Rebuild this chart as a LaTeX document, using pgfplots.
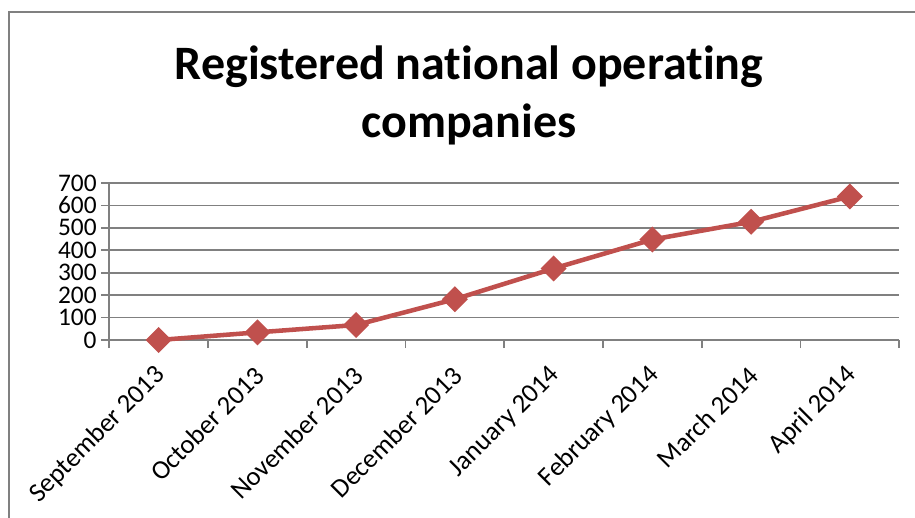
\documentclass[border=0pt]{standalone}
\usepackage{pgfplots}
\pgfplotsset{compat=1.18}
\usepackage{fontspec}
\setmainfont{Carlito}[Ligatures=NoCommon]
\definecolor{linered}{HTML}{C0504D}
\definecolor{gridgray}{HTML}{808080}
\begin{document}
\begin{tikzpicture}
\clip (0,0) rectangle (686.25pt,-388.5pt);
\draw[gridgray, line width=1.1pt] (9*0.75pt,-12*0.75pt) rectangle (700pt,-400pt);
\node[anchor=base, inner sep=0pt, font=\fontsize{36}{43}\selectfont\bfseries] at (469*0.75pt,-79*0.75pt) {Registered national operating};
\node[anchor=base, inner sep=0pt, font=\fontsize{36}{43}\selectfont\bfseries] at (469*0.75pt,-137*0.75pt) {companies};
\begin{axis}[
  at={(109.3*0.75pt,-340*0.75pt)}, anchor=south west,
  scale only axis, width=592.5pt, height=117.75pt,
  xmin=-0.5, xmax=7.5, ymin=0, ymax=700,
  axis x line=bottom, axis y line=left,
  axis line style={-, gridgray, line width=1.2pt},
  xtick={0,...,7},
  xticklabels={September 2013, October 2013, November 2013, December 2013, January 2014, February 2014, March 2014, April 2014},
  minor xtick={-0.5,0.5,...,7.5},
  ytick={0,100,...,700},
  ymajorgrids, grid style={gridgray, line width=1.2pt},
  tick align=outside, major tick length=6pt, minor tick length=6pt,
  major x tick style={draw=none},
  tick style={gridgray, line width=1.2pt},
  /pgf/number format/assume math mode=true,
  /pgf/number format/1000 sep={},
  ticklabel style={text=black},
  xticklabel style={font=\fontsize{20}{22}\selectfont, rotate=45, anchor=east, yshift=-13.5pt, xshift=-7.7pt},
  yticklabel style={font=\fontsize{19}{21}\selectfont, anchor=east, xshift=0pt},
  clip=false,
]
\addplot[linered, line width=3.4pt, mark=square*, mark size=5.2pt,
  mark options={rotate=45, solid, fill=linered, draw=none}]
  coordinates {(0,0) (1,34) (2,67) (3,182) (4,319) (5,448) (6,527) (7,640)};
\end{axis}
\end{tikzpicture}
\end{document}
